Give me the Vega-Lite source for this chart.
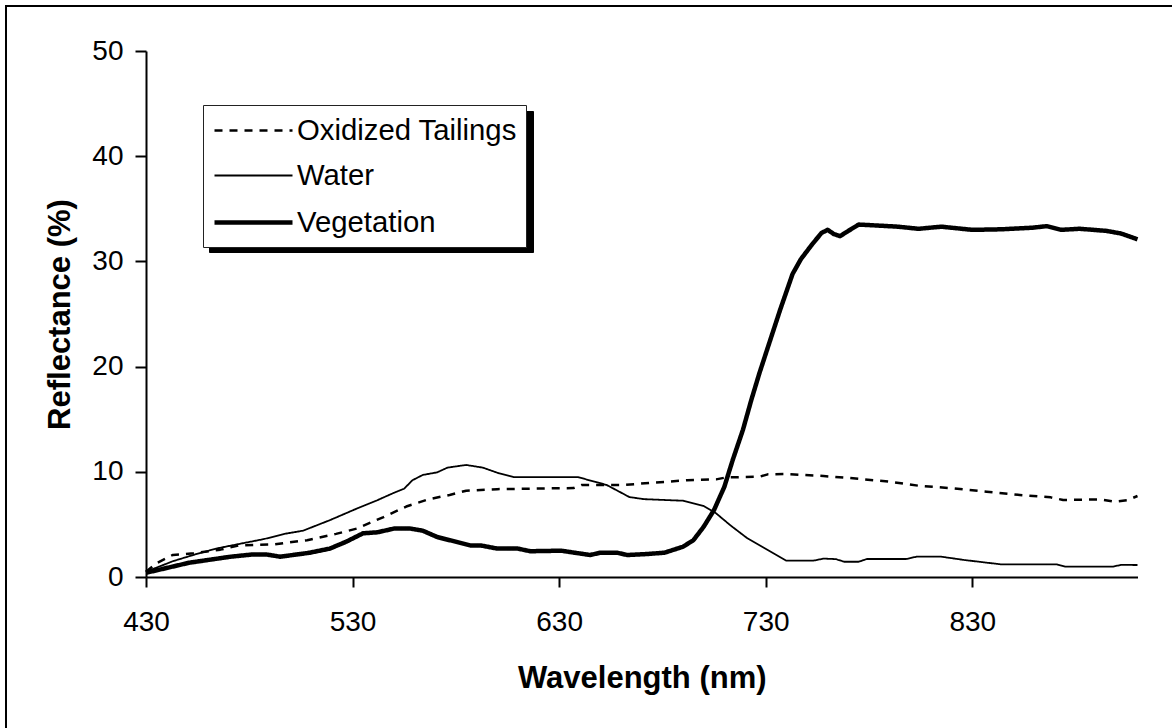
{
  "$schema": "https://vega.github.io/schema/vega-lite/v6.json",
  "autosize": {"type": "none"},
  "padding": {"left": 6, "top": 6, "right": -10, "bottom": -10},
  "width": 1176,
  "height": 732,
  "background": "white",
  "config": {
    "view": {"stroke": "black", "strokeWidth": 2},
    "axis": {
      "grid": false,
      "domainColor": "black",
      "domainWidth": 2,
      "tickColor": "black",
      "tickWidth": 2,
      "labelFont": "Liberation Sans",
      "labelFontSize": 28,
      "labelColor": "black",
      "titleFont": "Liberation Sans",
      "titleFontSize": 31,
      "titleFontWeight": "bold",
      "titleColor": "black"
    }
  },
  "datasets": {
    "spectra": [
      {"s": "Oxidized Tailings", "wl": 430, "r": 0.5},
      {"s": "Oxidized Tailings", "wl": 435, "r": 1.3},
      {"s": "Oxidized Tailings", "wl": 443, "r": 2.1},
      {"s": "Oxidized Tailings", "wl": 453, "r": 2.25},
      {"s": "Oxidized Tailings", "wl": 466, "r": 2.6},
      {"s": "Oxidized Tailings", "wl": 475, "r": 3.0},
      {"s": "Oxidized Tailings", "wl": 492, "r": 3.1},
      {"s": "Oxidized Tailings", "wl": 508, "r": 3.5},
      {"s": "Oxidized Tailings", "wl": 522, "r": 4.1},
      {"s": "Oxidized Tailings", "wl": 532, "r": 4.6},
      {"s": "Oxidized Tailings", "wl": 545, "r": 5.7},
      {"s": "Oxidized Tailings", "wl": 556, "r": 6.7},
      {"s": "Oxidized Tailings", "wl": 567, "r": 7.4},
      {"s": "Oxidized Tailings", "wl": 577, "r": 7.8},
      {"s": "Oxidized Tailings", "wl": 585, "r": 8.2},
      {"s": "Oxidized Tailings", "wl": 600, "r": 8.35},
      {"s": "Oxidized Tailings", "wl": 616, "r": 8.4},
      {"s": "Oxidized Tailings", "wl": 637, "r": 8.45},
      {"s": "Oxidized Tailings", "wl": 641, "r": 8.75},
      {"s": "Oxidized Tailings", "wl": 661, "r": 8.75},
      {"s": "Oxidized Tailings", "wl": 676, "r": 8.97},
      {"s": "Oxidized Tailings", "wl": 692, "r": 9.2},
      {"s": "Oxidized Tailings", "wl": 706, "r": 9.28},
      {"s": "Oxidized Tailings", "wl": 711, "r": 9.47},
      {"s": "Oxidized Tailings", "wl": 727, "r": 9.53},
      {"s": "Oxidized Tailings", "wl": 731, "r": 9.76},
      {"s": "Oxidized Tailings", "wl": 739, "r": 9.79},
      {"s": "Oxidized Tailings", "wl": 758, "r": 9.6},
      {"s": "Oxidized Tailings", "wl": 771, "r": 9.4},
      {"s": "Oxidized Tailings", "wl": 790, "r": 9.06},
      {"s": "Oxidized Tailings", "wl": 805, "r": 8.65},
      {"s": "Oxidized Tailings", "wl": 821, "r": 8.43},
      {"s": "Oxidized Tailings", "wl": 837, "r": 8.1},
      {"s": "Oxidized Tailings", "wl": 853, "r": 7.8},
      {"s": "Oxidized Tailings", "wl": 868, "r": 7.57},
      {"s": "Oxidized Tailings", "wl": 874, "r": 7.32},
      {"s": "Oxidized Tailings", "wl": 892, "r": 7.38},
      {"s": "Oxidized Tailings", "wl": 899, "r": 7.16},
      {"s": "Oxidized Tailings", "wl": 905, "r": 7.3},
      {"s": "Oxidized Tailings", "wl": 910, "r": 7.7},
      {"s": "Water", "wl": 430, "r": 0.5},
      {"s": "Water", "wl": 443, "r": 1.5},
      {"s": "Water", "wl": 453, "r": 2.1},
      {"s": "Water", "wl": 464, "r": 2.7},
      {"s": "Water", "wl": 474, "r": 3.1},
      {"s": "Water", "wl": 487, "r": 3.6},
      {"s": "Water", "wl": 497, "r": 4.1},
      {"s": "Water", "wl": 506, "r": 4.4},
      {"s": "Water", "wl": 519, "r": 5.4},
      {"s": "Water", "wl": 532, "r": 6.5},
      {"s": "Water", "wl": 542, "r": 7.3},
      {"s": "Water", "wl": 550, "r": 8.0},
      {"s": "Water", "wl": 555, "r": 8.4},
      {"s": "Water", "wl": 559, "r": 9.2},
      {"s": "Water", "wl": 564, "r": 9.7},
      {"s": "Water", "wl": 571, "r": 9.95},
      {"s": "Water", "wl": 576, "r": 10.4},
      {"s": "Water", "wl": 585, "r": 10.65},
      {"s": "Water", "wl": 593, "r": 10.4},
      {"s": "Water", "wl": 601, "r": 9.85},
      {"s": "Water", "wl": 608, "r": 9.5},
      {"s": "Water", "wl": 620, "r": 9.5},
      {"s": "Water", "wl": 639, "r": 9.5},
      {"s": "Water", "wl": 653, "r": 8.75},
      {"s": "Water", "wl": 664, "r": 7.6},
      {"s": "Water", "wl": 671, "r": 7.4},
      {"s": "Water", "wl": 690, "r": 7.25},
      {"s": "Water", "wl": 700, "r": 6.75},
      {"s": "Water", "wl": 706, "r": 6.05},
      {"s": "Water", "wl": 713, "r": 4.9},
      {"s": "Water", "wl": 721, "r": 3.7},
      {"s": "Water", "wl": 731, "r": 2.57},
      {"s": "Water", "wl": 740, "r": 1.55},
      {"s": "Water", "wl": 753, "r": 1.55},
      {"s": "Water", "wl": 758, "r": 1.75},
      {"s": "Water", "wl": 764, "r": 1.7},
      {"s": "Water", "wl": 768, "r": 1.45},
      {"s": "Water", "wl": 775, "r": 1.45},
      {"s": "Water", "wl": 779, "r": 1.71},
      {"s": "Water", "wl": 798, "r": 1.71},
      {"s": "Water", "wl": 803, "r": 1.93},
      {"s": "Water", "wl": 815, "r": 1.93},
      {"s": "Water", "wl": 826, "r": 1.62},
      {"s": "Water", "wl": 844, "r": 1.2},
      {"s": "Water", "wl": 871, "r": 1.2},
      {"s": "Water", "wl": 875, "r": 0.98},
      {"s": "Water", "wl": 898, "r": 0.98},
      {"s": "Water", "wl": 902, "r": 1.15},
      {"s": "Water", "wl": 910, "r": 1.14},
      {"s": "Vegetation", "wl": 430, "r": 0.4},
      {"s": "Vegetation", "wl": 451, "r": 1.36},
      {"s": "Vegetation", "wl": 471, "r": 1.93},
      {"s": "Vegetation", "wl": 482, "r": 2.15},
      {"s": "Vegetation", "wl": 488, "r": 2.15},
      {"s": "Vegetation", "wl": 495, "r": 1.93},
      {"s": "Vegetation", "wl": 509, "r": 2.3},
      {"s": "Vegetation", "wl": 519, "r": 2.7},
      {"s": "Vegetation", "wl": 527, "r": 3.36},
      {"s": "Vegetation", "wl": 535, "r": 4.15},
      {"s": "Vegetation", "wl": 542, "r": 4.25},
      {"s": "Vegetation", "wl": 550, "r": 4.6},
      {"s": "Vegetation", "wl": 558, "r": 4.6},
      {"s": "Vegetation", "wl": 564, "r": 4.4},
      {"s": "Vegetation", "wl": 571, "r": 3.8},
      {"s": "Vegetation", "wl": 587, "r": 3.0},
      {"s": "Vegetation", "wl": 592, "r": 3.0},
      {"s": "Vegetation", "wl": 600, "r": 2.7},
      {"s": "Vegetation", "wl": 610, "r": 2.7},
      {"s": "Vegetation", "wl": 616, "r": 2.45},
      {"s": "Vegetation", "wl": 631, "r": 2.5},
      {"s": "Vegetation", "wl": 645, "r": 2.09},
      {"s": "Vegetation", "wl": 650, "r": 2.31},
      {"s": "Vegetation", "wl": 658, "r": 2.31},
      {"s": "Vegetation", "wl": 663, "r": 2.09},
      {"s": "Vegetation", "wl": 673, "r": 2.19},
      {"s": "Vegetation", "wl": 681, "r": 2.31},
      {"s": "Vegetation", "wl": 690, "r": 2.88},
      {"s": "Vegetation", "wl": 695, "r": 3.5},
      {"s": "Vegetation", "wl": 700, "r": 4.78},
      {"s": "Vegetation", "wl": 705, "r": 6.37},
      {"s": "Vegetation", "wl": 710, "r": 8.58},
      {"s": "Vegetation", "wl": 714, "r": 11.1},
      {"s": "Vegetation", "wl": 719, "r": 14.0},
      {"s": "Vegetation", "wl": 723, "r": 16.8},
      {"s": "Vegetation", "wl": 727, "r": 19.4},
      {"s": "Vegetation", "wl": 731, "r": 21.8},
      {"s": "Vegetation", "wl": 737, "r": 25.4},
      {"s": "Vegetation", "wl": 743, "r": 28.8},
      {"s": "Vegetation", "wl": 747, "r": 30.2},
      {"s": "Vegetation", "wl": 752, "r": 31.5},
      {"s": "Vegetation", "wl": 757, "r": 32.7},
      {"s": "Vegetation", "wl": 760, "r": 33.0},
      {"s": "Vegetation", "wl": 763, "r": 32.6},
      {"s": "Vegetation", "wl": 766, "r": 32.4},
      {"s": "Vegetation", "wl": 770, "r": 32.9},
      {"s": "Vegetation", "wl": 775, "r": 33.5},
      {"s": "Vegetation", "wl": 785, "r": 33.4},
      {"s": "Vegetation", "wl": 794, "r": 33.3},
      {"s": "Vegetation", "wl": 804, "r": 33.1},
      {"s": "Vegetation", "wl": 815, "r": 33.3},
      {"s": "Vegetation", "wl": 830, "r": 33.0},
      {"s": "Vegetation", "wl": 844, "r": 33.05},
      {"s": "Vegetation", "wl": 859, "r": 33.2},
      {"s": "Vegetation", "wl": 866, "r": 33.35},
      {"s": "Vegetation", "wl": 873, "r": 33.0},
      {"s": "Vegetation", "wl": 882, "r": 33.1},
      {"s": "Vegetation", "wl": 895, "r": 32.9},
      {"s": "Vegetation", "wl": 902, "r": 32.65},
      {"s": "Vegetation", "wl": 910, "r": 32.1}
    ]
  },
  "data": {"name": "spectra"},
  "mark": {"type": "line", "color": "black", "strokeJoin": "round"},
  "encoding": {
    "x": {
      "field": "wl",
      "type": "quantitative",
      "scale": {"domain": [430, 910], "range": [140, 1131.5], "nice": false, "zero": false},
      "axis": {
        "title": "Wavelength (nm)",
        "offset": -161,
        "values": [430, 530, 630, 730, 830],
        "tickSize": 10,
        "labelBaseline": "alphabetic",
        "labelPadding": 43,
        "labelFlush": false,
        "labelOverlap": false,
        "titleY": 110,
        "titleBaseline": "alphabetic"
      }
    },
    "y": {
      "field": "r",
      "type": "quantitative",
      "scale": {"domain": [0, 50], "range": [571, 45], "nice": false},
      "axis": {
        "title": "Reflectance (%)",
        "offset": -140,
        "values": [0, 10, 20, 30, 40, 50],
        "tickSize": 11,
        "labelPadding": 12,
        "labelFlush": false,
        "labelOverlap": false,
        "titleX": -77,
        "titleY": 308,
        "titleBaseline": "alphabetic"
      }
    },
    "strokeDash": {
      "field": "s",
      "type": "nominal",
      "scale": {"domain": ["Oxidized Tailings", "Water", "Vegetation"], "range": [[8, 7], [1, 0], [1, 0]]},
      "legend": {
        "title": null, "orient": "none", "legendX": 197, "legendY": 99, "zindex": 2,
        "fillColor": "white", "strokeColor": "#222",
        "padding": 9, "rowPadding": 13.5,
        "labelFont": "Liberation Sans", "labelFontSize": 29.3, "labelColor": "black", "labelOffset": 50, "labelLimit": 400,
        "symbolType": "M-1,0H4.2", "symbolSize": 900, "symbolOffset": 0, "symbolStrokeColor": "black", "symbolFillColor": "transparent"
      }
    },
    "strokeWidth": {
      "field": "s",
      "type": "nominal",
      "scale": {"type": "ordinal", "domain": ["Oxidized Tailings", "Water", "Vegetation"], "range": [2.5, 1.8, 4.5]},
      "legend": {
        "title": null, "orient": "none", "legendX": 197, "legendY": 99, "zindex": 2,
        "fillColor": "white", "strokeColor": "#222",
        "padding": 9, "rowPadding": 13.5,
        "labelFont": "Liberation Sans", "labelFontSize": 29.3, "labelColor": "black", "labelOffset": 50, "labelLimit": 400,
        "symbolType": "M-1,0H4.2", "symbolSize": 900, "symbolOffset": 0, "symbolStrokeColor": "black", "symbolFillColor": "transparent"
      }
    },
    "opacity": {
      "field": "s",
      "type": "nominal",
      "scale": {"type": "ordinal", "domain": ["Water", "Oxidized Tailings", "Vegetation"], "range": [1, 1, 1]},
      "legend": {
        "title": null, "orient": "none", "legendX": 203, "legendY": 105, "zindex": 1,
        "fillColor": "black", "strokeColor": "black",
        "padding": 9, "rowPadding": 13.5,
        "labelExpr": "''",
        "labelFont": "Liberation Sans", "labelFontSize": 29.3, "labelColor": "black", "labelOffset": 274, "labelLimit": 400,
        "symbolType": "M-1,0H4.2", "symbolSize": 900, "symbolOffset": 0, "symbolStrokeColor": "black", "symbolFillColor": "transparent"
      }
    }
  }
}
